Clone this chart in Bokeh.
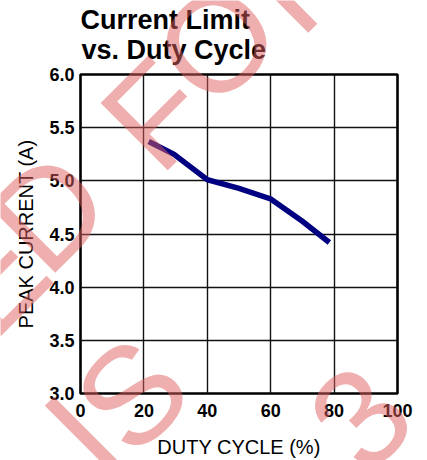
import math
from bokeh.plotting import figure
from bokeh.models import Label, FixedTicker, PrintfTickFormatter, Range1d, GridBox
from bokeh.embed import file_html
from bokeh.resources import INLINE

# ---- data ----
duty_cycle = [21.5, 29.5, 40, 50, 60, 70, 78.5]          # %
peak_current = [5.37, 5.25, 5.01, 4.93, 4.83, 4.62, 4.42]  # A

x_ticks = [0, 20, 40, 60, 80, 100]
y_ticks = [3.0, 3.5, 4.0, 4.5, 5.0, 5.5, 6.0]

title_lines = ["Current Limit", "vs. Duty Cycle"]
x_label = "DUTY CYCLE (%)"
y_label = "PEAK CURRENT (A)"

# diagonal watermark letters (page pixel positions of each letter's centre)
wm_letters = ["E", "D", "F", "O", "R", "I", "S", "3"]
wm_cx = [-9, 48, 155, 216, 301, 82, 131, 360]
wm_cy = [285, 219, 122, 50, -21, 442, 402, 425]

FONT = "Liberation Sans"
W, H = 427, 460
DY = -8  # vertical correction of the overlay layer

p = figure(width=W, height=H,
           x_range=Range1d(x_ticks[0], x_ticks[-1]),
           y_range=Range1d(y_ticks[0], y_ticks[-1]),
           output_backend="svg", toolbar_location=None,
           min_border_left=80, min_border_right=30,
           min_border_top=74, min_border_bottom=67)
p.title.text = ""
p.background_fill_color = "white"
p.border_fill_color = "white"
p.outline_line_color = "black"
p.outline_line_width = 2.6

for ax in (p.xaxis[0], p.yaxis[0]):
    ax.axis_line_color = None
    ax.major_tick_line_color = None
    ax.minor_tick_line_color = None
    ax.major_tick_out = 0
    ax.major_tick_in = 0
    ax.major_label_text_font = FONT
    ax.major_label_text_font_style = "bold"
    ax.major_label_text_font_size = "18px"
    ax.major_label_text_color = "black"
    ax.axis_label_text_font = FONT
    ax.axis_label_text_font_style = "normal"
    ax.axis_label_text_font_size = "20px"
    ax.axis_label_text_color = "black"

p.xaxis.ticker = FixedTicker(ticks=x_ticks)
p.yaxis.ticker = FixedTicker(ticks=y_ticks)
p.yaxis.formatter = PrintfTickFormatter(format="%.1f")
p.xaxis.major_label_standoff = 10
p.yaxis.major_label_standoff = 6
p.xaxis.axis_label = x_label
p.yaxis.axis_label = y_label
p.xaxis.axis_label_standoff = 16
p.yaxis.axis_label_standoff = 9

p.xgrid.ticker = FixedTicker(ticks=x_ticks)
p.ygrid.ticker = FixedTicker(ticks=y_ticks)
for g in (p.xgrid[0], p.ygrid[0]):
    g.grid_line_color = "#111111"
    g.grid_line_width = 1.4

p.line(duty_cycle, peak_current, line_color="#000080", line_width=5.5,
       line_cap="butt", line_join="miter")

# transparent overlay figure (page-pixel coordinates) for title + watermark
wm = figure(width=W, height=H, x_range=Range1d(0, W), y_range=Range1d(H, 0),
            x_axis_type=None, y_axis_type=None,
            output_backend="svg", toolbar_location=None, min_border=0)
wm.grid.visible = False
wm.outline_line_color = None
wm.background_fill_alpha = 0
wm.border_fill_alpha = 0
try:
    wm.title = None
except Exception:
    wm.title.visible = False
for fig in (p, wm):
    try:
        fig.frame_align = False
    except AttributeError:
        pass

# two-line bold title
wm.add_layout(Label(x=80, y=27 + DY, text=title_lines[0], text_font=FONT,
                    text_font_style="bold", text_font_size="27px",
                    text_color="black", text_align="left",
                    text_baseline="alphabetic"))
wm.add_layout(Label(x=81, y=57 + DY, text=title_lines[1], text_font=FONT,
                    text_font_style="bold", text_font_size="27px",
                    text_color="black", text_align="left",
                    text_baseline="alphabetic"))

for ch, cx, cy in zip(wm_letters, wm_cx, wm_cy):
    wm.add_layout(Label(x=cx, y=cy + DY, text=ch, angle=math.pi / 4,
                        text_font=FONT, text_font_size="138px",
                        text_color="#e06060", text_alpha=0.5,
                        text_align="center", text_baseline="middle"))

layout = GridBox(children=[(p, 0, 0), (wm, 0, 0)])

open("out.html", "w").write(file_html(layout, INLINE))
